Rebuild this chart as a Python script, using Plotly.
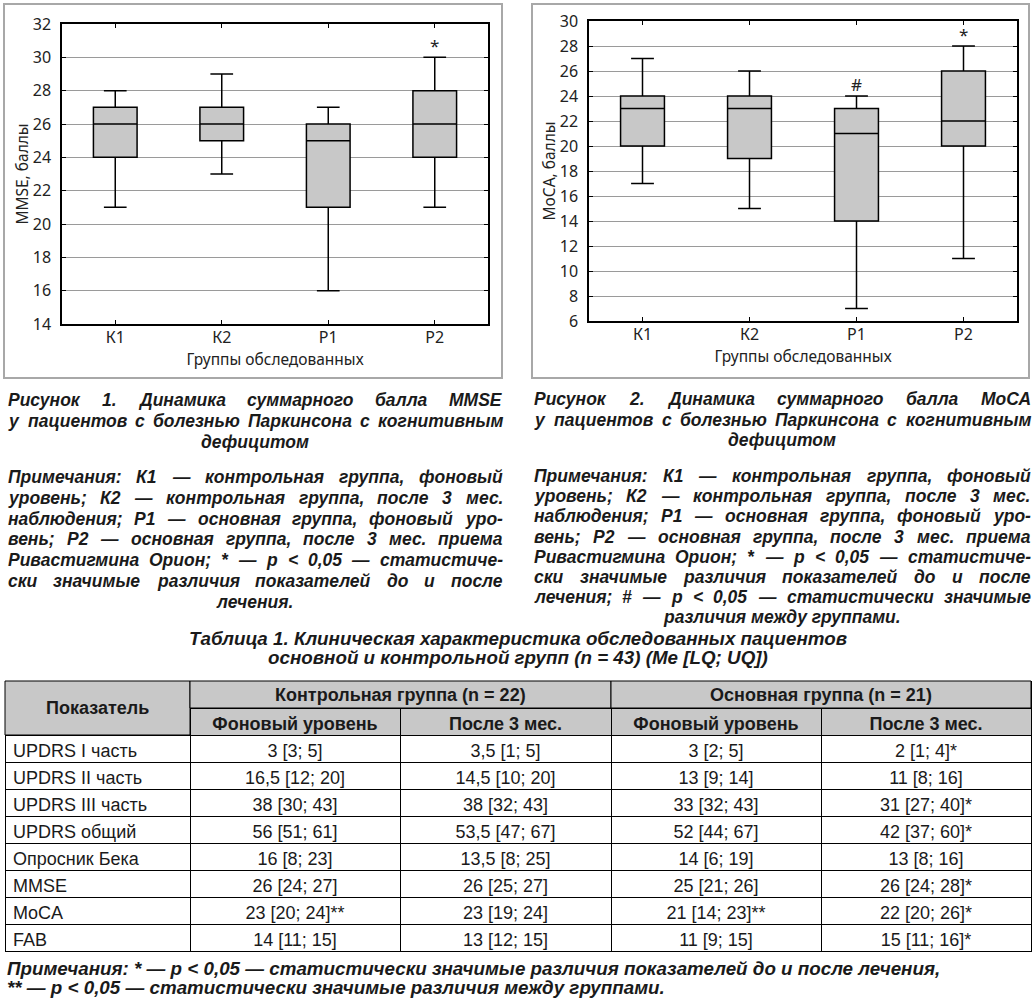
import json
import plotly.graph_objects as go

W, H = 1035, 999

# ---------------- data ----------------
groups = ["К1", "К2", "Р1", "Р2"]

mmse_low = [21, 23, 16, 21]
mmse_q1 = [24, 25, 21, 24]
mmse_med = [26, 26, 25, 26]
mmse_q3 = [27, 27, 26, 28]
mmse_high = [28, 29, 27, 30]
mmse_marks = ["", "", "", "*"]

moca_low = [17, 15, 7, 11]
moca_q1 = [20, 19, 14, 20]
moca_med = [23, 23, 21, 22]
moca_q3 = [24, 24, 23, 26]
moca_high = [27, 26, 24, 28]
moca_marks = ["", "", "#", "*"]

row_names = ["UPDRS I часть", "UPDRS II часть", "UPDRS III часть", "UPDRS общий",
             "Опросник Бека", "MMSE", "MoCA", "FAB"]
ctrl_base = ["3 [3; 5]", "16,5 [12; 20]", "38 [30; 43]", "56 [51; 61]",
             "16 [8; 23]", "26 [24; 27]", "23 [20; 24]**", "14 [11; 15]"]
ctrl_after = ["3,5 [1; 5]", "14,5 [10; 20]", "38 [32; 43]", "53,5 [47; 67]",
              "13,5 [8; 25]", "26 [25; 27]", "23 [19; 24]", "13 [12; 15]"]
main_base = ["3 [2; 5]", "13 [9; 14]", "33 [32; 43]", "52 [44; 67]",
             "14 [6; 19]", "25 [21; 26]", "21 [14; 23]**", "11 [9; 15]"]
main_after = ["2 [1; 4]*", "11 [8; 16]", "31 [27; 40]*", "42 [37; 60]*",
              "13 [8; 16]", "26 [24; 28]*", "22 [20; 26]*", "15 [11; 16]*"]

group_header = ["Контрольная группа (n = 22)", "Основная группа (n = 21)"]
sub_header = ["Фоновый уровень", "После 3 мес.", "Фоновый уровень", "После 3 мес."]
first_header = "Показатель"

cap1 = ["Рисунок 1. Динамика суммарного балла MMSE",
        "у пациентов с болезнью Паркинсона с когнитивным",
        "дефицитом"]
note1 = ["Примечания: К1 — контрольная группа, фоновый",
         "уровень; К2 — контрольная группа, после 3 мес.",
         "наблюдения; Р1 — основная группа, фоновый уро-",
         "вень; Р2 — основная группа, после 3 мес. приема",
         "Ривастигмина Орион; * — р < 0,05 — статистиче-",
         "ски значимые различия показателей до и после",
         "лечения."]
cap2 = ["Рисунок 2. Динамика суммарного балла МоСА",
        "у пациентов с болезнью Паркинсона с когнитивным",
        "дефицитом"]
note2 = ["Примечания: К1 — контрольная группа, фоновый",
         "уровень; К2 — контрольная группа, после 3 мес.",
         "наблюдения; Р1 — основная группа, фоновый уро-",
         "вень; Р2 — основная группа, после 3 мес. приема",
         "Ривастигмина Орион; * — р < 0,05 — статистиче-",
         "ски значимые различия показателей до и после",
         "лечения; # — р < 0,05 — статистически значимые",
         "различия между группами."]
table_title = ["Таблица 1. Клиническая характеристика обследованных пациентов",
               "основной и контрольной групп (n = 43) (Me [LQ; UQ])"]
table_notes = ["Примечания: * — р < 0,05 — статистически значимые различия показателей до и после лечения,",
               "** — р < 0,05 — статистически значимые различия между группами."]

# ---------------- helpers ----------------
def px(x):
    return x / W

def py(y):
    return 1 - y / H

NB = "\u00a0"
def nb(s):
    return s.replace(" ", NB)

CHART_FONT = "Noto Sans"
TEXT_FONT = "Liberation Sans"
BOX_FILL = "#c8c8c8"
GRID = "#9a9a9a"
INK = "#1a1a1a"

# rough advance widths (1/1000 em) for an initial word layout; refined in the browser
_W = {}
for ch, w in zip("ABCDEFGHIJKLMNOPQRSTUVWXYZ",
                 [722, 722, 722, 722, 667, 611, 778, 722, 278, 556, 722, 611, 833, 722, 778, 667, 778, 722, 667, 611, 722, 667, 944, 667, 667, 611]):
    _W[ch] = w
for ch, w in zip("abcdefghijklmnopqrstuvwxyz",
                 [556, 611, 556, 611, 556, 333, 611, 611, 278, 278, 556, 278, 889, 611, 611, 611, 611, 389, 556, 333, 611, 556, 778, 556, 556, 500]):
    _W[ch] = w
for ch, w in zip("АБВГДЕЖЗИЙКЛМНОПРСТУФХЦЧШЩЪЫЬЭЮЯ",
                 [722, 722, 722, 611, 700, 667, 1000, 611, 722, 722, 722, 700, 833, 722, 778, 722, 667, 722, 611, 667, 900, 667, 722, 667, 1000, 1000, 850, 950, 700, 722, 1000, 722]):
    _W[ch] = w
for ch, w in zip("абвгдежзийклмнопрстуфхцчшщъыьэюя",
                 [556, 611, 576, 396, 622, 556, 830, 490, 615, 615, 510, 604, 740, 615, 611, 615, 611, 556, 479, 556, 888, 556, 626, 583, 885, 896, 677, 813, 573, 549, 854, 583]):
    _W[ch] = w
_W.update({" ": 278, ".": 278, ",": 278, ";": 333, ":": 333, "*": 389, "#": 556, "<": 584,
           "=": 584, "—": 1000, "-": 333, "(": 333, ")": 333, "[": 333, "]": 333})
for d in "0123456789":
    _W[d] = 556

def est_width(s, size):
    return sum(_W.get(c, 600) for c in s) * size / 1000 * 1.08

fig = go.Figure()

def add_box(lo, q1, med, q3, hi, xa, ya):
    fig.add_trace(go.Box(
        x=groups, q1=q1, median=med, q3=q3, lowerfence=lo, upperfence=hi,
        fillcolor=BOX_FILL, line=dict(color="black", width=1.5),
        width=0.41, whiskerwidth=0.52, boxpoints=False,
        hoverinfo="skip", showlegend=False, xaxis=xa, yaxis=ya))

add_box(mmse_low, mmse_q1, mmse_med, mmse_q3, mmse_high, "x", "y")
add_box(moca_low, moca_q1, moca_med, moca_q3, moca_high, "x2", "y2")

annotations = []
for xa, ya, marks, highs in (("x", "y", mmse_marks, mmse_high), ("x2", "y2", moca_marks, moca_high)):
    for g, m, hi in zip(groups, marks, highs):
        if m:
            annotations.append(dict(x=g, y=hi, xref=xa, yref=ya, text=m, showarrow=False,
                                    yanchor="bottom", yshift=-2,
                                    font=dict(family=CHART_FONT, size=17, color="#222")))

CF = dict(family=CHART_FONT, size=16, color="#222")
TF = dict(family=CHART_FONT, size=15.5, color="#222")
xaxis_common = dict(type="category", range=[-0.5, 3.5], showline=True, linecolor="black",
                    linewidth=1.5, mirror="ticks", ticks="inside", ticklen=4, tickcolor="black",
                    showgrid=False, tickfont=CF, ticklabelstandoff=-2, automargin=False,
                    title=dict(text="Группы обследованных", standoff=2, font=TF),
                    fixedrange=True, zeroline=False)
yaxis_common = dict(showline=True, linecolor="black", linewidth=1.5, mirror="ticks",
                    ticks="inside", ticklen=4, tickcolor="black", dtick=2, automargin=False,
                    showgrid=True, gridcolor=GRID, gridwidth=1, zeroline=False,
                    tickfont=CF, ticklabelstandoff=6, fixedrange=True)

fig.update_layout(
    width=W, height=H, margin=dict(l=0, r=0, t=0, b=0, pad=0, autoexpand=False),
    paper_bgcolor="white", plot_bgcolor="white", showlegend=False,
    xaxis=dict(xaxis_common, domain=[px(62), px(488)], anchor="y"),
    yaxis=dict(yaxis_common, domain=[py(324), py(24)], range=[14, 32], anchor="x",
               title=dict(text="MMSE, баллы", standoff=0, font=TF)),
    xaxis2=dict(xaxis_common, domain=[px(589), px(1017)], anchor="y2"),
    yaxis2=dict(yaxis_common, domain=[py(321), py(21)], range=[6, 30], anchor="x2",
                title=dict(text="MoCA, баллы", standoff=0, font=TF)),
)

shapes = []
for x0, x1 in ((4, 502), (532, 1029)):
    shapes.append(dict(type="rect", xref="paper", yref="paper", x0=px(x0), x1=px(x1),
                       y0=py(378), y1=py(4), line=dict(color="#a8a8a8", width=2)))

# captions: justified lines (one annotation per word), centred final line
def text_ann(t, x, y, anchor, size):
    return dict(x=px(x), y=py(y), xref="paper", yref="paper",
                text="<b><i>" + t + "</i></b>", showarrow=False,
                xanchor=anchor, yanchor="middle",
                font=dict(family=TEXT_FONT, size=size, color=INK))

justify = []  # [left, right, [annotation indices]]

def add_paragraph(lines, x_left, x_right, y_start, step, size):
    for i, t in enumerate(lines):
        yy = y_start + i * step
        if i == len(lines) - 1:
            annotations.append(text_ann(t, (x_left + x_right) / 2, yy, "center", size))
            continue
        words = t.split(" ")
        widths = [est_width(w, size) for w in words]
        gap = (x_right - x_left - sum(widths)) / (len(words) - 1)
        pos = x_left
        idx = []
        for w, ww in zip(words, widths):
            idx.append(len(annotations))
            annotations.append(text_ann(w, pos - 1, yy, "left", size))
            pos += ww + gap
        justify.append([x_left, x_right, idx])

CAP = 17.5
add_paragraph(cap1, 7, 502, 400, 20.8, CAP)
add_paragraph(note1, 7, 502, 477, 20.8, CAP)
add_paragraph(cap2, 533, 1030, 399, 20.5, CAP)
add_paragraph(note2, 533, 1030, 476, 20.2, CAP)

for i, t in enumerate(table_title):
    annotations.append(text_ann(t, 518, 638 + i * 19.5, "center", 18.8))
for i, t in enumerate(table_notes):
    annotations.append(text_ann(t, 5, 968 + i * 19, "left", 18.8))

# ---------------- table ----------------
T_LEFT, T_RIGHT = 5, 1031
col_w = [185, 210, 211, 210, 210]
T_TOP = 681
HDR_H = 27
ROW_H = 27
HDR_FILL = "#c8c8c8"
TFONT = dict(family=TEXT_FONT, size=18, color=INK)
TFONT_B = dict(family=TEXT_FONT, size=18, color=INK, weight="bold")

fig.add_trace(go.Table(
    domain=dict(x=[px(T_LEFT), px(T_RIGHT)],
                y=[py(T_TOP + 2 * HDR_H + ROW_H * len(row_names) + 6), py(T_TOP)]),
    columnwidth=col_w,
    header=dict(values=[["", ""]] + [["", nb(s)] for s in sub_header],
                fill_color=HDR_FILL, line=dict(color="black", width=1),
                align="center", height=HDR_H, font=TFONT_B),
    cells=dict(values=[[nb(v) for v in col] for col in
                       (row_names, ctrl_base, ctrl_after, main_base, main_after)],
               fill_color="white", line=dict(color="black", width=1),
               align=["left", "center", "center", "center", "center"],
               height=ROW_H, font=TFONT),
))

# merged header cells drawn over the table's first header row
scale = (T_RIGHT - T_LEFT) / sum(col_w)
edges = [T_LEFT]
for w in col_w:
    edges.append(edges[-1] + w * scale)
merged = [(edges[0], edges[1], T_TOP, T_TOP + 2 * HDR_H, first_header),
          (edges[1], edges[3], T_TOP, T_TOP + HDR_H, group_header[0]),
          (edges[3], edges[5], T_TOP, T_TOP + HDR_H, group_header[1])]
for x0, x1, y0, y1, label in merged:
    shapes.append(dict(type="rect", xref="paper", yref="paper", x0=px(x0), x1=px(x1),
                       y0=py(y1), y1=py(y0), fillcolor=HDR_FILL,
                       line=dict(color="black", width=1), layer="above"))
    annotations.append(dict(x=px((x0 + x1) / 2), y=py((y0 + y1) / 2), xref="paper", yref="paper",
                            text="<b>" + label + "</b>", showarrow=False,
                            xanchor="center", yanchor="middle", font=TFONT))

fig.update_layout(shapes=shapes, annotations=annotations)

# page setup and exact justification of caption words
post = """
(function() {
  var gd = document.getElementById('{plot_id}');
  [document.documentElement, document.body].forEach(function(el) {
    el.style.margin = '0px'; el.style.padding = '0px'; el.style.overflow = 'hidden';
  });
  var J = __JUSTIFY__;
  var upd = {};
  J.forEach(function(line) {
    var left = line[0], right = line[1], idx = line[2];
    var ws = idx.map(function(i) {
      var t = gd.querySelector('.annotation[data-index="' + i + '"] .annotation-text');
      return t ? t.getBBox().width : 0;
    });
    if (ws.some(function(w) { return !(w > 0); })) { return; }
    var tot = ws.reduce(function(a, b) { return a + b; }, 0);
    var gap = (right - left - tot) / (idx.length - 1);
    var pos = left;
    idx.forEach(function(i, k) {
      upd['annotations[' + i + '].x'] = (pos - 1) / __W__;
      pos += ws[k] + gap;
    });
  });
  if (Object.keys(upd).length) { Plotly.relayout(gd, upd); }
})();
""".replace("__JUSTIFY__", json.dumps(justify)).replace("__W__", str(W))

fig.write_html("out.html", post_script=post, config={"displayModeBar": False})
